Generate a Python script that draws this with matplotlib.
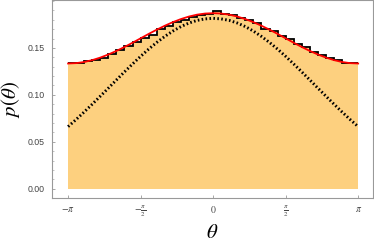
import numpy as np
import matplotlib
matplotlib.use("Agg")
import matplotlib.pyplot as plt
from matplotlib.ticker import MultipleLocator

plt.rcParams['mathtext.fontset'] = 'stix'

# histogram (36 bins over [-pi, pi])
bin_edges = np.linspace(-np.pi, np.pi, 37)
hist = [0.1338, 0.1336, 0.1362, 0.1372, 0.1395, 0.1432, 0.1478, 0.1520, 0.1558,
        0.1605, 0.1640, 0.1700, 0.1728, 0.1775, 0.1795, 0.1830, 0.1855, 0.1862,
        0.1895, 0.1862, 0.1848, 0.1815, 0.1800, 0.1768, 0.1705, 0.1682, 0.1630,
        0.1595, 0.1545, 0.1505, 0.1455, 0.1420, 0.1395, 0.1368, 0.1340, 0.1342]

# curves sampled every 10 degrees, from 0 to pi (symmetric)
half = np.linspace(0, np.pi, 19)
red_half = [0.1870, 0.1866, 0.1854, 0.1834, 0.1807, 0.1774, 0.1736, 0.1694, 0.1649,
            0.1602, 0.1555, 0.1510, 0.1468, 0.1430, 0.1397, 0.1370, 0.1350, 0.1338, 0.1334]
dot_half = [0.1815, 0.1809, 0.1793, 0.1765, 0.1727, 0.1679, 0.1622, 0.1558, 0.1487,
            0.1410, 0.1329, 0.1245, 0.1159, 0.1072, 0.0986, 0.0901, 0.0818, 0.0738, 0.0662]

theta = np.concatenate([-half[::-1], half[1:]])
red = np.array(red_half[::-1] + red_half[1:])
dotted = np.array(dot_half[::-1] + dot_half[1:])

xticks = [-np.pi, -np.pi / 2, 0, np.pi / 2, np.pi]
xlabels = [r'$-\pi$', r'$-\frac{\pi}{2}$', r'$0$', r'$\frac{\pi}{2}$', r'$\pi$']

fig = plt.figure(figsize=(3.74, 2.41), dpi=100)
ax = fig.add_axes([0.139, 0.178, 0.858, 0.82])

ax.stairs(hist, bin_edges, fill=True, color='#fdd07f', linewidth=0)
ax.stairs(hist, bin_edges, baseline=None, color='black', linewidth=1.3)
ax.plot(theta, dotted, color='black', linewidth=2.1, linestyle=(0, (0.55, 0.8)))
ax.plot(theta, red, color='red', linewidth=1.3)

ax.set_xlim(-3.49, 3.46)
ax.set_ylim(-0.0099, 0.2005)

ax.set_xticks(xticks)
ax.set_xticklabels(xlabels, fontsize=7)
ax.set_yticks([0.0, 0.05, 0.10, 0.15])
ax.set_yticklabels(['0.00', '0.05', '0.10', '0.15'], fontsize=6.3, family='Liberation Sans')
ax.yaxis.set_minor_locator(MultipleLocator(0.01))
ax.tick_params(axis='both', which='major', direction='in', length=2.5, width=0.6,
               color='#999999', labelcolor='#444444')
ax.tick_params(axis='y', which='minor', direction='in', length=1.5, width=0.5, color='#aaaaaa')
ax.tick_params(axis='y', pad=5)
ax.tick_params(axis='x', pad=4)
for s in ax.spines.values():
    s.set_color('#999999')
    s.set_linewidth(0.8)

ax.set_xlabel(r'$\theta$', fontsize=15)
ax.set_ylabel(r'$p(\theta)$', fontsize=15)
ax.xaxis.set_label_coords(0.5, -0.122)
ax.yaxis.set_label_coords(-0.092, 0.5)

fig.savefig('out.png', dpi=100)
